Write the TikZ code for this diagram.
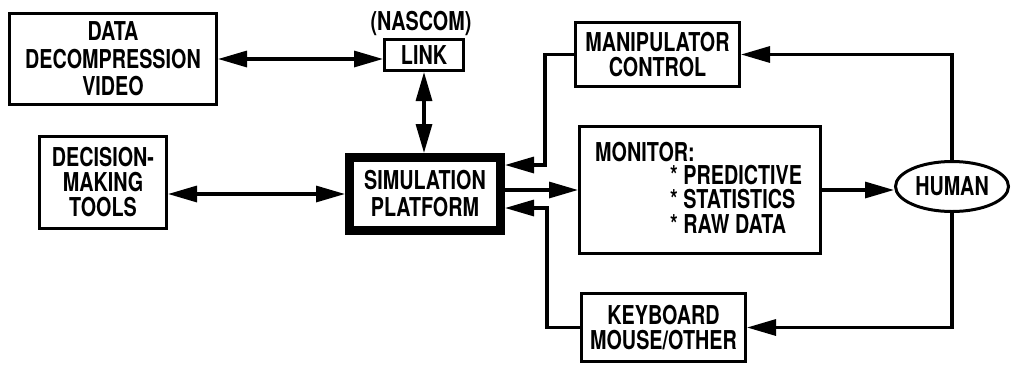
\documentclass[tikz,border=0pt]{standalone}
\usepackage{fontspec}
\setmainfont{TeX Gyre Heros}[FakeStretch=0.76]
\usetikzlibrary{arrows.meta,shapes.geometric,calc}

\begin{document}
\begin{tikzpicture}[x=1pt,y=-1pt,
  every node/.style={font=\bfseries\fontsize{26}{25}\selectfont, align=center, inner sep=0pt},
  box/.style={draw, line width=3pt, rectangle},
  tip/.style={line width=3.2pt, -{Triangle[length=29pt,width=16pt]}},
  dtip/.style={line width=3.2pt, {Triangle[length=29pt,width=16pt]}-{Triangle[length=29pt,width=16pt]}}]

\useasboundingbox (0,0) rectangle (1011,365);

% left column
\node[box, minimum width=207pt, minimum height=91pt,
      font=\bfseries\fontsize{26}{27.5}\selectfont] (ddv) at (113,59)
      {DATA\\DECOMPRESSION\\VIDEO};
\node[box, minimum width=127pt, minimum height=92pt] (dmt) at (103,182.5)
      {DECISION-\\MAKING\\TOOLS};

% link and platform
\node[box, minimum width=79pt, minimum height=31pt] (link) at (424,55) {LINK};
\node (nascom) at (421,23) {(NASCOM)};
\node[draw, line width=9pt, minimum width=151pt, minimum height=73pt,
      font=\bfseries\fontsize{26}{27}\selectfont] (sim) at (425,194)
      {SIMULATION\\PLATFORM};

% right column
\node[box, minimum width=164pt, minimum height=64pt] (man) at (657.5,54.5)
      {MANIPULATOR\\CONTROL};
\node[box, minimum width=241pt, minimum height=127pt] (mon) at (700,190) {};
\node[anchor=west] (montitle) at (595,152) {MONITOR:};
\node[anchor=west, align=left, font=\bfseries\fontsize{26}{24.5}\selectfont]
      (monlist) at (670,199) {* PREDICTIVE\\* STATISTICS\\* RAW DATA};
\node[box, minimum width=164pt, minimum height=68pt] (key) at (663.5,327.5)
      {KEYBOARD\\MOUSE/OTHER};
\node[draw, ellipse, line width=3pt, minimum width=113pt, minimum height=50pt]
      (hum) at (952,186.5) {HUMAN};

% connectors
\draw[dtip] (ddv.east) -- (ddv.east -| link.west);
\draw[dtip] (link.south) -- (link.south |- sim.north);
\draw[dtip] (sim.west -| dmt.east) -- (sim.west);
\draw[tip] (man.west) -- ++(-29,0) |- ($(sim.east)+(0,-29)$);
\draw[tip] (sim.east |- mon.west) -- (mon.west);
\draw[tip] (key.west) -- ++(-33,0) |- ($(sim.east)+(0,14)$);
\draw[tip] (mon.east) -- (mon.east -| hum.west);
\draw[tip] (hum.north) |- (man.east);
\draw[tip] (hum.south) |- (key.east);
\end{tikzpicture}
\end{document}
